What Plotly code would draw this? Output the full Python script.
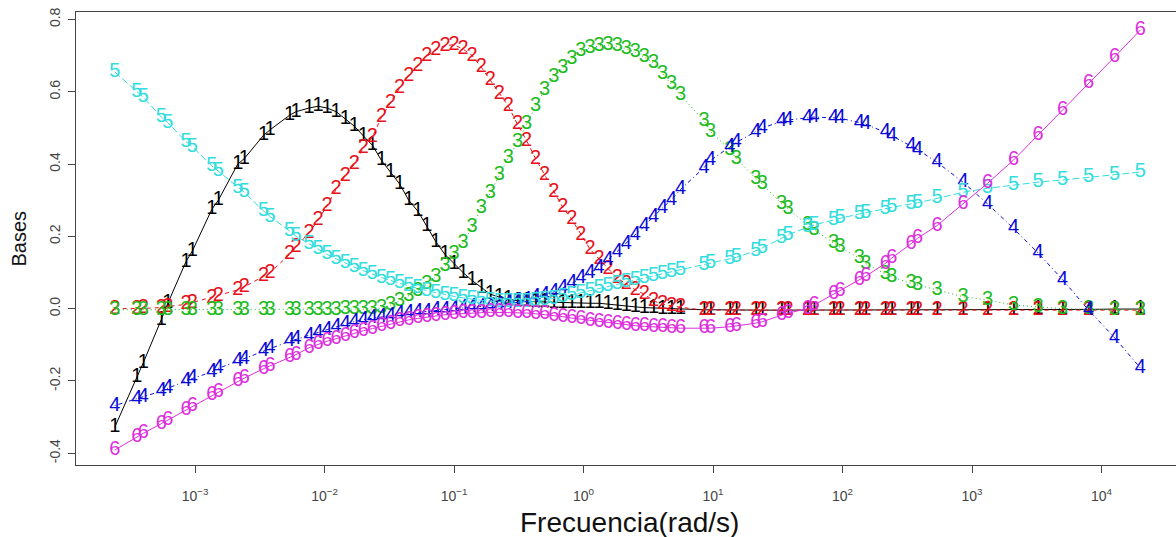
import plotly.graph_objects as go

# Frequencies as decade exponents (rad/s = 10**exp)
freq_exp = [
    -3.62, -3.45, -3.40, -3.26, -3.21, -3.07, -3.02, -2.87, -2.82, -2.67, -2.62,
    -2.47, -2.42, -2.27, -2.22,
    -2.12, -2.05, -1.98, -1.91, -1.84, -1.77, -1.70, -1.63, -1.56, -1.49, -1.42,
    -1.35, -1.28, -1.21, -1.14, -1.07, -1.00, -0.93, -0.86, -0.79, -0.72, -0.65,
    -0.58, -0.51, -0.44, -0.37, -0.30, -0.23, -0.16, -0.09, -0.02, 0.05, 0.12,
    0.19, 0.26, 0.33, 0.40, 0.47, 0.54, 0.61, 0.68, 0.75,
    0.93, 0.98, 1.13, 1.18, 1.33, 1.38, 1.53, 1.58, 1.73, 1.78, 1.93, 1.98,
    2.13, 2.18, 2.33, 2.38, 2.53, 2.58,
    2.73, 2.93, 3.12, 3.32, 3.51, 3.70, 3.90, 4.10, 4.30,
]
freq = [10 ** e for e in freq_exp]

base1 = [
    -0.328, -0.19, -0.15, -0.03, 0.015, 0.13, 0.16, 0.275, 0.30, 0.40, 0.415,
    0.48, 0.495, 0.535, 0.545,
    0.555, 0.56, 0.555, 0.545, 0.525, 0.505, 0.478, 0.452, 0.41, 0.378, 0.345,
    0.30, 0.27, 0.228, 0.185, 0.15, 0.125, 0.10, 0.078, 0.058, 0.04, 0.032,
    0.026, 0.022, 0.02, 0.019, 0.018, 0.017, 0.017, 0.016, 0.016, 0.015, 0.015,
    0.012, 0.01, 0.008, 0.005, 0.003, 0.002, 0.0, -0.001, -0.002,
    -0.003, -0.003, -0.004, -0.004, -0.004, -0.004, -0.004, -0.004, -0.004,
    -0.004, -0.004, -0.004, -0.004, -0.004, -0.004, -0.004, -0.003, -0.003,
    -0.003, -0.003, -0.003, -0.003, -0.002, -0.002, -0.002, -0.001, -0.001,
]
base2 = [
    0.0, 0.0, 0.001, 0.003, 0.006, 0.012, 0.017, 0.03, 0.036, 0.052, 0.06,
    0.09, 0.10, 0.15, 0.17,
    0.21, 0.245, 0.285, 0.33, 0.368, 0.40, 0.445, 0.475, 0.53, 0.57, 0.61,
    0.645, 0.672, 0.698, 0.716, 0.728, 0.73, 0.718, 0.70, 0.668, 0.632, 0.595,
    0.56, 0.51, 0.465, 0.415, 0.37, 0.322, 0.28, 0.247, 0.205, 0.165, 0.137,
    0.11, 0.085, 0.068, 0.052, 0.04, 0.022, 0.012, 0.007, 0.004,
    -0.004, -0.004, -0.004, -0.004, -0.004, -0.004, -0.004, -0.004, -0.004,
    -0.004, -0.004, -0.004, -0.004, -0.004, -0.004, -0.004, -0.004, -0.004,
    -0.004, -0.004, -0.004, -0.004, -0.004, -0.004, -0.004, -0.004, -0.004,
]
base3 = [
    -0.003, -0.003, -0.003, -0.003, -0.003, -0.003, -0.003, -0.003, -0.003,
    -0.003, -0.003, -0.003, -0.003, -0.003, -0.003,
    -0.003, -0.003, -0.003, -0.003, -0.002, -0.002, -0.002, -0.001, 0.002,
    0.01, 0.022, 0.035, 0.05, 0.068, 0.088, 0.118, 0.15, 0.182, 0.225, 0.278,
    0.32, 0.37, 0.418, 0.46, 0.51, 0.56, 0.605, 0.64, 0.666, 0.692, 0.712,
    0.722, 0.727, 0.729, 0.726, 0.719, 0.709, 0.696, 0.68, 0.65, 0.622, 0.59,
    0.52, 0.49, 0.44, 0.415, 0.36, 0.345, 0.29, 0.275, 0.232, 0.218, 0.182,
    0.17, 0.14, 0.125, 0.096, 0.088, 0.07, 0.065,
    0.052, 0.033, 0.024, 0.01, 0.005, 0.0, -0.002, -0.003, -0.003,
]
base4 = [
    -0.268, -0.25, -0.245, -0.228, -0.22, -0.2, -0.193, -0.175, -0.165, -0.145,
    -0.138, -0.118, -0.11, -0.09, -0.085,
    -0.075, -0.066, -0.058, -0.05, -0.043, -0.036, -0.03, -0.026, -0.022,
    -0.019, -0.016, -0.013, -0.01, -0.008, -0.005, -0.003, 0.0, 0.002, 0.004,
    0.006, 0.008, 0.011, 0.015, 0.02, 0.025, 0.031, 0.038, 0.046, 0.058, 0.07,
    0.085, 0.1, 0.112, 0.135, 0.158, 0.18, 0.205, 0.228, 0.255, 0.278, 0.302,
    0.33,
    0.39, 0.41, 0.447, 0.46, 0.49, 0.5, 0.518, 0.522, 0.528, 0.53, 0.528,
    0.527, 0.515, 0.51, 0.488, 0.478, 0.45, 0.44,
    0.405, 0.35, 0.29, 0.222, 0.154, 0.08, -0.004, -0.08, -0.164,
]
base5 = [
    0.655, 0.60, 0.585, 0.53, 0.515, 0.462, 0.448, 0.395, 0.38, 0.335, 0.322,
    0.27, 0.255, 0.215, 0.2,
    0.18, 0.165, 0.15, 0.138, 0.126, 0.115, 0.105, 0.095, 0.086, 0.078, 0.07,
    0.063, 0.056, 0.05, 0.044, 0.039, 0.034, 0.03, 0.026, 0.023, 0.021, 0.019,
    0.018, 0.018, 0.019, 0.021, 0.024, 0.028, 0.033, 0.038, 0.044, 0.05,
    0.056, 0.062, 0.068, 0.074, 0.08, 0.085, 0.09, 0.096, 0.102, 0.108,
    0.122, 0.126, 0.138, 0.142, 0.16, 0.168, 0.195, 0.205, 0.225, 0.232,
    0.245, 0.25, 0.262, 0.266, 0.277, 0.28, 0.29, 0.293,
    0.305, 0.322, 0.333, 0.342, 0.35, 0.356, 0.364, 0.37, 0.378,
]
base6 = [
    -0.391, -0.355, -0.345, -0.318, -0.308, -0.28, -0.27, -0.24, -0.23, -0.2,
    -0.192, -0.166, -0.158, -0.134, -0.127,
    -0.108, -0.098, -0.09, -0.083, -0.075, -0.068, -0.061, -0.055, -0.049,
    -0.042, -0.035, -0.031, -0.027, -0.023, -0.02, -0.017, -0.015, -0.013,
    -0.012, -0.011, -0.01, -0.01, -0.01, -0.011, -0.012, -0.014, -0.016,
    -0.019, -0.022, -0.026, -0.029, -0.033, -0.036, -0.039, -0.042, -0.045,
    -0.047, -0.049, -0.05, -0.052, -0.053, -0.054,
    -0.054, -0.054, -0.05, -0.048, -0.04, -0.036, -0.018, -0.012, 0.0, 0.01,
    0.04, 0.05, 0.08, 0.09, 0.125, 0.14, 0.18, 0.195,
    0.23, 0.29, 0.347, 0.411, 0.48, 0.55, 0.624, 0.696, 0.771,
]

series = [base1, base2, base3, base4, base5, base6]
labels = ["1", "2", "3", "4", "5", "6"]
colors = ["#000000", "#E8101A", "#1DBB1D", "#0A0AD8", "#33DDDD", "#DD2EDD"]
dashes = ["solid", "4px,4px", "1px,3px", "1px,3px,4px,3px", "7px,3px", "solid"]

x_tick_exp = [-3, -2, -1, 0, 1, 2, 3, 4]
x_tick_text = ["10<sup>%s</sup>" % str(e).replace("-", "\u2212") for e in x_tick_exp]
y_ticks = [-0.4, -0.2, 0.0, 0.2, 0.4, 0.6, 0.8]
y_tick_text = ["-0.4", "-0.2", "0.0", "0.2", "0.4", "0.6", "0.8"]

fig = go.Figure()
for vals, lab, col, dash in zip(series, labels, colors, dashes):
    assert len(vals) == len(freq)
    fig.add_trace(go.Scatter(
        x=freq, y=vals, mode="lines+text",
        text=[lab] * len(vals), textposition="middle center",
        textfont=dict(family="Liberation Sans, Arial, sans-serif", size=20, color=col),
        line=dict(color=col, width=1, dash=dash),
        cliponaxis=False, showlegend=False, name=lab,
    ))

axis_font = dict(family="Liberation Sans, Arial, sans-serif", size=14, color="#444444")
fig.update_layout(
    width=1176, height=537,
    margin=dict(l=76, r=0, t=12, b=72),
    paper_bgcolor="white", plot_bgcolor="white",
    xaxis=dict(
        type="log", range=[-3.919, 4.575],
        tickvals=[10 ** e for e in x_tick_exp], ticktext=x_tick_text,
        ticks="outside", ticklen=7, tickcolor="#444444", tickwidth=1,
        showline=True, linecolor="#444444", linewidth=1, mirror=True,
        showgrid=False, zeroline=False, tickfont=axis_font,
        ticklabelstandoff=11,
    ),
    yaxis=dict(
        range=[-0.4324, 0.8207],
        tickvals=y_ticks, ticktext=y_tick_text, tickangle=-90,
        ticks="outside", ticklen=7, tickcolor="#444444", tickwidth=1,
        showline=True, linecolor="#444444", linewidth=1,
        showgrid=False, zeroline=False, tickfont=axis_font,
        ticklabelstandoff=2,
    ),
    annotations=[
        dict(text="Frecuencia(rad/s)", xref="paper", yref="paper",
             x=0.503, y=-0.128, xanchor="center", yanchor="middle",
             showarrow=False,
             font=dict(family="Liberation Sans, Arial, sans-serif", size=28, color="#111111")),
        dict(text="Bases", xref="paper", yref="paper",
             x=-0.0527, y=0.5, xanchor="center", yanchor="middle",
             textangle=-90, showarrow=False,
             font=dict(family="Liberation Sans, Arial, sans-serif", size=20, color="#111111")),
    ],
)

fig.write_html("out.html")
